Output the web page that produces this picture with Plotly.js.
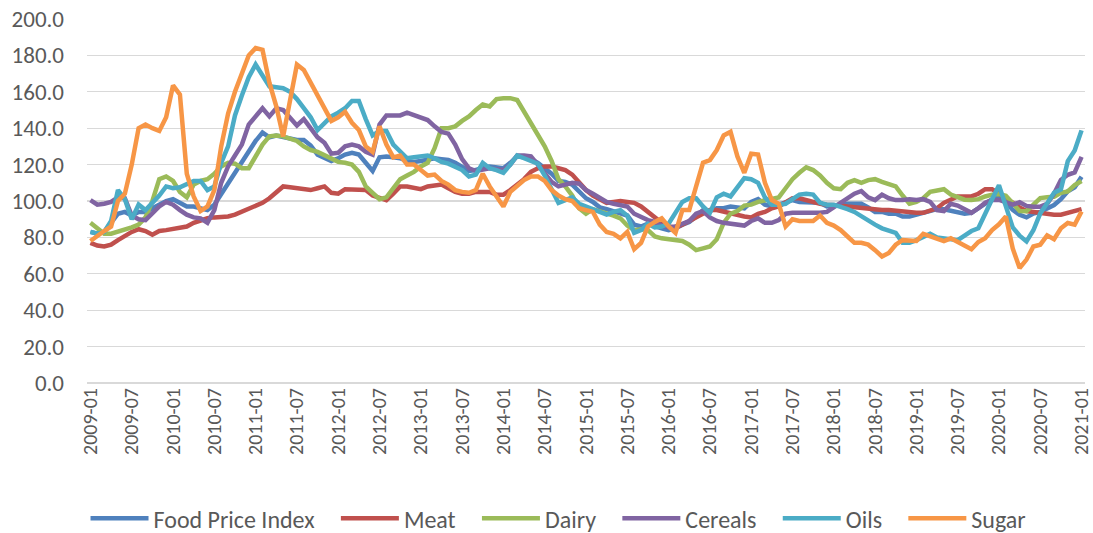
<!DOCTYPE html>
<html>
<head>
<meta charset="utf-8">
<script src="https://cdn.plot.ly/plotly-3.0.1.min.js"></script>
<style>
html,body{margin:0;padding:0;background:#fff;}
#chart{width:1093px;height:533px;}
</style>
</head>
<body>
<div id="chart"></div>
<script>
// Month categories 2009-01 .. 2021-01
var months = [];
for (var y = 2009; y <= 2021; y++) {
  for (var m = 1; m <= 12; m++) {
    if (y === 2021 && m > 1) break;
    months.push(y + '-' + (m < 10 ? '0' + m : '' + m));
  }
}
var tickLabels = months.filter(function (d, i) { return i % 6 === 0; });

var foodPriceIndex = [
 83, 82, 83, 88, 93, 94, 92, 94, 94, 96, 98, 100,
 101, 99, 97, 97, 96, 95, 98, 104, 109, 116, 121, 128,
 133, 137.6, 135, 136, 135, 134.5, 133.5, 133.5, 130.5, 125.5, 124, 122,
 123.5, 125.5, 126.5, 125.5, 121, 116.5, 124, 124.5, 124, 123.5, 122, 121.5,
 122, 123, 123.5, 123, 122.5, 121, 119, 116.5, 117, 118.5, 119, 118.5,
 118, 121, 124.5, 124, 123, 121, 118, 115, 111, 110.5, 109, 105.5,
 101.5, 99.5, 96.5, 95.5, 94.5, 93, 92, 87, 86, 87.5, 86, 85,
 84, 85, 87, 88.5, 91.5, 95, 94.5, 96, 96, 97, 96.5, 96,
 99.5, 101, 98, 97, 98, 99.5, 100.5, 99.5, 99.5, 99, 99, 97,
 97.5, 98.5, 98.5, 98.5, 98.5, 96.5, 94, 94, 93, 93, 91.5, 91.5,
 92.5, 94, 94.5, 95.5, 95.5, 94.5, 94, 93, 93.5, 96, 99, 101,
 102.5, 99.4, 95.1, 92.4, 91, 93.1, 94, 95.9, 97.8, 101, 105.3, 107.5,
 113.3];
var meat = [
 77, 75.5, 75, 76, 78.5, 81, 83, 84.5, 83.5, 81.5, 83.5, 84,
 84.5, 85, 86, 88, 89.5, 90.5, 91, 91, 91.5, 92.5, 94, 96,
 97, 99, 101.5, 105, 108, 107.5, 107, 106.5, 106, 107, 108, 104.5,
 104, 106.5, 106.5, 106, 106, 103, 101.5, 100.5, 104, 108, 108, 107,
 106.5, 108, 108.5, 109, 107, 105, 104, 104, 105, 105, 105, 103.5,
 103.5, 106, 109, 112, 116, 118, 119, 119, 118, 117, 114.5, 110,
 106, 103, 101, 99, 99.5, 100, 99.5, 99, 97, 94, 91, 88,
 86, 85.5, 87, 89, 91, 93.5, 95, 95, 94, 93, 92.5, 91.5,
 91, 93, 94, 96, 97, 99.5, 101.5, 101.5, 100.5, 99, 98.5, 98,
 98, 97.5, 97, 96.5, 96, 95.5, 95, 95, 95, 94.5, 94, 93.5,
 93.5, 93.5, 94.5, 96, 99, 101, 102.5, 102.5, 102.5, 104, 106.5, 106.5,
 104, 101, 99, 96.5, 94.5, 94, 93, 92.5, 92.5, 92.5, 93.5, 95,
 95.5];
var dairy = [
 88, 85, 82, 82, 83, 84, 85.5, 87, 91, 100, 112, 113.5,
 111, 105, 102, 109, 111, 112, 115, 119, 121, 120.5, 118, 118,
 124, 131, 135.5, 136, 135.5, 134.5, 133, 130, 128, 127, 125, 123,
 121.5, 121, 120, 116, 108, 104.5, 101, 102, 107, 112, 114, 116,
 119, 121, 129, 140, 140, 141, 144, 146.5, 150, 153, 152, 156,
 156.5, 156.5, 155.5, 149, 143, 137, 130, 122, 112, 108, 103, 96,
 93, 95.5, 94.5, 93.5, 92, 90.5, 86.5, 84, 84.5, 84, 80.5, 79.5,
 79, 78.5, 78, 76, 73, 74, 75, 79, 88, 93, 94.5, 97.5,
 98, 99.5, 100.5, 101, 102, 107, 112, 115.5, 118.5, 117, 114, 110,
 107, 106.5, 110, 111.5, 110, 111.5, 112, 110.5, 109, 108, 103, 98.5,
 99.5, 101.5, 105, 105.5, 106.5, 103.5, 102, 100.7, 100.5, 101, 102.5, 103.5,
 103.8, 102.9, 98.7, 94.5, 94.4, 98.3, 101.6, 102, 102.3, 104.5, 105.3, 108.8,
 111];
var cereals = [
 100.5, 98, 98.5, 99.5, 102, 101.5, 92, 90, 89.5, 93, 97, 99.5,
 98, 95, 92.5, 91, 90.5, 88, 95, 110, 119, 125, 131, 142,
 147, 151, 146.5, 151, 150, 146, 141.5, 145, 140, 135, 132, 126,
 126.5, 130, 131, 130, 127, 125.5, 142, 147, 147, 147, 148.5, 147,
 145.5, 144.5, 141, 138, 137, 131, 123, 118, 116.5, 117, 118, 117.5,
 117, 120, 125, 125, 124.5, 120, 115, 110.5, 108, 109, 110, 109.5,
 106, 104, 101.5, 99.5, 98.5, 98, 97, 93, 91, 89.5, 88.5, 86.5,
 85.5, 86, 87.5, 89, 93, 94.5, 91, 89, 88, 87.5, 87.5, 86.5,
 89, 90.5, 88, 88, 89.5, 93, 93.5, 93.5, 93, 93, 93.5, 94,
 96.5, 99.5, 102, 104, 105.5, 102, 100.5, 103.5, 101.5, 100.5, 100.5, 101,
 100.5, 101, 99.5, 95, 94.5, 98.5, 97.5, 95.5, 93.5, 96, 99, 100.5,
 100.6, 99.4, 98, 99.3, 97.3, 96.8, 96.9, 98.4, 104, 111.6, 114.4, 115.7,
 124.2];
var oils = [
 83, 82, 83, 89, 106, 101, 90, 98, 95, 99, 103, 108,
 107, 107.5, 109, 111, 111, 106, 108, 121, 130, 147, 158, 168,
 175, 169, 163, 162.5, 162, 160, 156, 151, 146, 139, 143, 146.5,
 148.5, 151, 155, 155, 145, 136, 138.5, 138.5, 131, 127, 123.5, 124,
 124.5, 125, 123.5, 121.5, 120.5, 119, 117, 113.5, 114.5, 121, 118, 117,
 115.5, 120, 125, 123.5, 122, 120.5, 114, 107, 99, 100.5, 102, 98.5,
 97, 96, 94.5, 92.5, 94, 95, 92, 82.5, 84, 87.5, 85.5, 86,
 87.5, 94, 99.5, 101.5, 101.5, 97, 93.5, 102, 104, 102.5, 108, 112.5,
 112, 110, 102, 98, 98, 98.5, 101, 103.5, 104, 103.5, 99, 98,
 98, 97, 95.5, 94, 91.5, 89.5, 87, 85, 84, 82.5, 77, 77,
 78.5, 80.5, 82, 80, 79.5, 79.5, 78.5, 81, 83.5, 85, 93.5, 101,
 108.7, 97.1, 85.5, 80.9, 77.8, 83.9, 93.2, 98.7, 104.6, 106.4, 121.9, 127.8,
 138.8];
var sugar = [
 78, 81, 83.5, 86, 100, 104, 120, 140, 142, 140, 138.5, 146,
 163.5, 158.5, 115, 102.5, 94.5, 97, 106, 130, 148, 160, 170, 180,
 184, 183, 165, 152, 135.5, 157, 175, 172, 165, 157, 150, 144,
 146, 149, 143, 139, 130, 127, 141, 131, 124, 125, 120, 120,
 117, 114, 114.5, 111, 109, 106, 105, 104.5, 106, 115, 108, 102,
 97, 105, 108.5, 111.5, 113.5, 113.5, 111, 106, 103, 101, 100, 96,
 95, 94, 87, 83, 82, 79.5, 83, 73.5, 77, 86, 88.5, 90.5,
 86, 82.5, 95, 95, 108, 121, 122.5, 128, 136, 138, 124.5, 115.5,
 126, 125.5, 110, 100.5, 98.5, 86, 90, 89, 89, 89, 92, 88,
 86.5, 84, 80.5, 77, 77, 76, 73, 69.5, 71.5, 76, 78.5, 78,
 78, 82, 80.5, 79, 78, 79.5, 77.5, 75.5, 73.5, 77.5, 79.5, 84,
 87.2, 91.5, 73.9, 63.2, 67.8, 75, 76, 81.1, 79, 85, 87.9, 87,
 94.2];

var seriesNames = ['Food Price Index', 'Meat', 'Dairy', 'Cereals', 'Oils', 'Sugar'];
var seriesData = [foodPriceIndex, meat, dairy, cereals, oils, sugar];
var seriesColors = ['#4F81BD', '#C0504D', '#9BBB59', '#8064A2', '#4BACC6', '#F79646'];
var pad = '\u00a0\u00a0\u00a0';

var traces = seriesNames.map(function (name, k) {
  return {
    type: 'scatter',
    mode: 'lines',
    name: k < seriesNames.length - 1 ? name + pad : name,
    x: months,
    y: seriesData[k],
    line: { color: seriesColors[k], width: 4.5, shape: 'linear' },
    hoverinfo: 'x+y+name'
  };
});

var fontFamily = "Carlito, 'Liberation Sans', Arial, sans-serif";
var layout = {
  width: 1093,
  height: 533,
  margin: { l: 87, r: 8, t: 19, b: 150, pad: 0 },
  paper_bgcolor: '#ffffff',
  plot_bgcolor: '#ffffff',
  font: { family: fontFamily, color: '#595959', size: 18 },
  showlegend: true,
  legend: {
    orientation: 'h',
    xref: 'container', yref: 'container',
    x: 0.511, xanchor: 'center',
    y: 0.027, yanchor: 'middle',
    font: { family: fontFamily, size: 24, color: '#595959' },
    itemwidth: 58,
    traceorder: 'normal'
  },
  xaxis: {
    type: 'category',
    range: [-0.5, months.length - 0.5],
    tickmode: 'array',
    tickvals: tickLabels,
    ticktext: tickLabels,
    tickangle: -90,
    tickfont: { family: fontFamily, size: 20, color: '#595959' },
    showgrid: false,
    showline: false,
    zeroline: false,
    ticks: '',
    fixedrange: true
  },
  yaxis: {
    range: [0, 200],
    dtick: 20,
    tick0: 0,
    tickformat: '.1f',
    tickfont: { family: fontFamily, size: 23, color: '#595959' },
    showgrid: true,
    gridcolor: '#d9d9d9',
    gridwidth: 1.3,
    zeroline: true,
    zerolinecolor: '#d9d9d9',
    zerolinewidth: 1.3,
    showline: false,
    ticks: '',
    ticklabelstandoff: 22,
    fixedrange: true
  }
};

Plotly.newPlot('chart', traces, layout, { displayModeBar: false, staticPlot: true });
</script>
</body>
</html>
